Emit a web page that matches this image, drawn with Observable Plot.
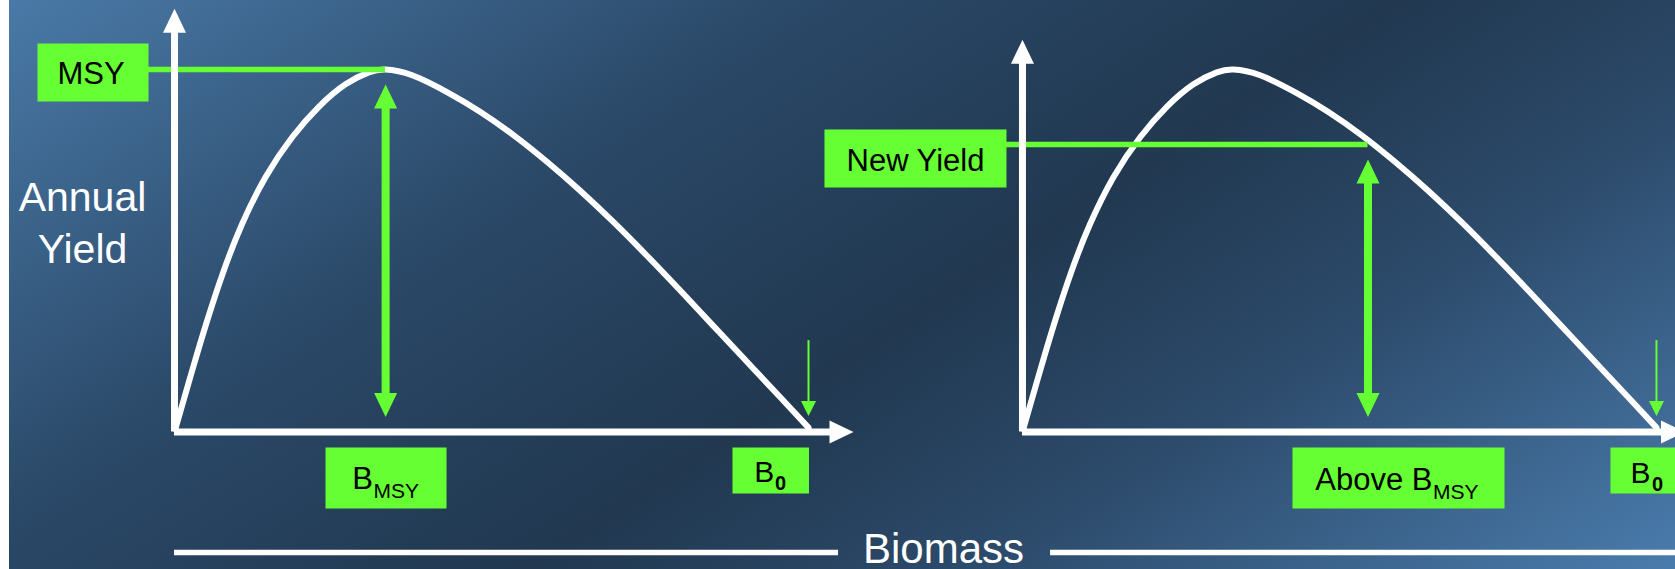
<!DOCTYPE html>
<html>
<head>
<meta charset="utf-8">
<script src="https://cdn.jsdelivr.net/npm/d3@7"></script>
<script src="https://cdn.jsdelivr.net/npm/@observablehq/plot@0.6"></script>
<style>
  html, body { margin: 0; padding: 0; overflow: hidden; background: #ffffff; }
  #chart svg { display: block; }
</style>
</head>
<body>
<div id="chart"></div>
<script>
// ---------- DATA ----------
// Surplus-production curve: biomass as a fraction of B0, annual yield as a fraction of MSY
const curveBiomass = [0.002, 0.0052, 0.0279, 0.0516, 0.0778, 0.1068, 0.1435, 0.1856, 0.2276, 0.2697, 0.3065, 0.3328,
                      0.3749, 0.4326, 0.4826, 0.5352, 0.5879, 0.6404, 0.6930, 0.7456, 0.7981, 0.8506, 0.9033, 0.9558, 1.0];
const curveYield   = [0.01, 0.0317, 0.1697, 0.3076, 0.4455, 0.5743, 0.7029, 0.8132, 0.8970, 0.9590, 0.9920, 1.0,
                      0.9840, 0.9350, 0.8830, 0.8185, 0.7450, 0.6650, 0.5780, 0.4855, 0.3895, 0.2915, 0.1930, 0.0950, 0.012];

const panels          = ["MSY", "New Yield"];
const harvestBiomass  = [0.333, 0.545];     // biomass where the fishery operates (fraction of B0)
const harvestYield    = [1.0, 0.793];       // yield obtained there (fraction of MSY)
const yieldLabels     = ["MSY", "New Yield"];
const biomassLabels   = ["B", "Above B"];
const biomassSubs     = ["MSY", "MSY"];
const b0Label         = "B";
const b0Sub           = "0";
const b0Biomass       = 1.0;
const b0MarkerTop     = 0.252;
const axisTopYield    = [1.1675, 1.082];
const axisEndBiomass  = [1.071, 1.045];
const yTitleLines     = ["Annual", "Yield"];
const xTitle          = "Biomass";

// ---------- LAYOUT ----------
const panelOffset = [0, 1.3375];              // horizontal shift of each panel, in B0 units
const xDomain = [-0.27445, 2.36751];
const yDomain = [-0.37931, 1.190345];
const biomassLabelX = 1.213;
const green = "#66ff33";
const font = "'Liberation Sans', Arial, Helvetica, sans-serif";

// layout per panel (pixel offsets)
const yieldBox   = {dx: [-81.5, -107], dy: [3, 14], w: [111, 182], h: [58, 58], tdx: [-83.5, -107], tdy: [14.3, 26]};
const biomassBox = {dx: [0.4, 30.5], dy: [46, 46], w: [121, 212], h: [61, 61],
                    mdx: [-12.8, 64.5], mdy: [56.5, 57.8], sdx: [-12, 65], sdy: [65.5, 66.5]};
const b0Box      = {dx: [-37.75, -7.75], dy: [38.5, 38.5], w: 76.5, h: 46,
                    mdx: [-34.3, -6], mdy: [50.2, 51.2], sdx: [-33.5, -4.5], sdy: [57.8, 58.8]};

// ---------- symbols ----------
function head(w, h, dir) {
  return {draw(ctx) {
    ctx.moveTo(0, 0);
    if (dir === "up") { ctx.lineTo(w / 2, h); ctx.lineTo(-w / 2, h); }
    else if (dir === "down") { ctx.lineTo(w / 2, -h); ctx.lineTo(-w / 2, -h); }
    else { ctx.lineTo(-h, w / 2); ctx.lineTo(-h, -w / 2); }
    ctx.closePath();
  }};
}
function rectSym(w, h) {
  return {draw(ctx) { ctx.rect(-w / 2, -h / 2, w, h); }};
}

// ---------- derived tables ----------
const curve = panels.flatMap((p, i) =>
  curveBiomass.map((b, j) => ({panel: p, x: b + panelOffset[i], y: curveYield[j]})));
const panelRows = panels.map((p, i) => ({
  panel: p,
  origin: panelOffset[i],
  axisTop: axisTopYield[i],
  axisEnd: axisEndBiomass[i] + panelOffset[i],
  hx: harvestBiomass[i] + panelOffset[i],
  hy: harvestYield[i],
  b0: b0Biomass + panelOffset[i]
}));
const zero = () => 0;

const marks = [];
// curve
marks.push(Plot.line(curve, {x: "x", y: "y", z: "panel", curve: "natural", stroke: "white", strokeWidth: 6,
  strokeLinejoin: "round"}));
// green yield lines
marks.push(Plot.ruleY(panelRows, {y: "hy", x1: "origin", x2: "hx", insetLeft: -60, stroke: green, strokeWidth: 5.5}));
// axes
marks.push(Plot.ruleX(panelRows, {x: "origin", y1: "axisTop", y2: zero, insetTop: 18, stroke: "white", strokeWidth: 7}));
marks.push(Plot.ruleY(panelRows, {y: zero, x1: "origin", x2: "axisEnd", insetRight: 18, stroke: "white", strokeWidth: 7}));
marks.push(Plot.dot(panelRows, {x: "origin", y: "axisTop", symbol: head(23, 24, "up"), fill: "white", stroke: "none"}));
marks.push(Plot.dot(panelRows, {x: "axisEnd", y: zero, symbol: head(23, 24, "right"), fill: "white", stroke: "none"}));
// double arrows
marks.push(Plot.ruleX(panelRows, {x: "hx", y1: "hy", y2: zero, insetTop: 27, insetBottom: 27, stroke: green, strokeWidth: 8}));
marks.push(Plot.dot(panelRows, {x: "hx", y: "hy", dy: 15, symbol: head(23, 24, "up"), fill: green, stroke: "none"}));
marks.push(Plot.dot(panelRows, {x: "hx", y: zero, dy: -15, symbol: head(23, 24, "down"), fill: green, stroke: "none"}));
// B0 small arrows
marks.push(Plot.ruleX(panelRows, {x: "b0", y1: () => b0MarkerTop, y2: zero, insetBottom: 24, stroke: green, strokeWidth: 2}));
marks.push(Plot.dot(panelRows, {x: "b0", y: zero, dy: -16, symbol: head(15, 15, "down"), fill: green, stroke: "none"}));

// label boxes & texts
panelRows.forEach((r, i) => {
  const one = [r];
  // yield label
  marks.push(Plot.dot(one, {x: "origin", y: "hy", dx: yieldBox.dx[i], dy: yieldBox.dy[i],
    symbol: rectSym(yieldBox.w[i], yieldBox.h[i]), fill: green, stroke: "none"}));
  marks.push(Plot.text(one, {x: "origin", y: "hy", dx: yieldBox.tdx[i], dy: yieldBox.tdy[i], text: () => yieldLabels[i],
    fontSize: 31, fontFamily: font, fill: "black", textAnchor: "middle", lineAnchor: "bottom"}));
  // biomass label
  marks.push(Plot.dot(one, {x: "hx", y: zero, dx: biomassBox.dx[i], dy: biomassBox.dy[i],
    symbol: rectSym(biomassBox.w[i], biomassBox.h[i]), fill: green, stroke: "none"}));
  marks.push(Plot.text(one, {x: "hx", y: zero, dx: biomassBox.mdx[i], dy: biomassBox.mdy[i], text: () => biomassLabels[i],
    fontSize: 31, fontFamily: font, fill: "black", textAnchor: "end", lineAnchor: "bottom"}));
  marks.push(Plot.text(one, {x: "hx", y: zero, dx: biomassBox.sdx[i], dy: biomassBox.sdy[i], text: () => biomassSubs[i],
    fontSize: 21, fontFamily: font, fill: "black", textAnchor: "start", lineAnchor: "bottom"}));
  // B0 label
  marks.push(Plot.dot(one, {x: "b0", y: zero, dx: b0Box.dx[i], dy: b0Box.dy[i],
    symbol: rectSym(b0Box.w, b0Box.h), fill: green, stroke: "none"}));
  marks.push(Plot.text(one, {x: "b0", y: zero, dx: b0Box.mdx[i], dy: b0Box.mdy[i], text: () => b0Label,
    fontSize: 30, fontFamily: font, fill: "black", textAnchor: "end", lineAnchor: "bottom"}));
  marks.push(Plot.text(one, {x: "b0", y: zero, dx: b0Box.sdx[i], dy: b0Box.sdy[i], text: () => b0Sub,
    fontSize: 20, fontWeight: "bold", fontFamily: font, fill: "black", textAnchor: "start", lineAnchor: "bottom"}));
});

// y title
marks.push(Plot.text([yTitleLines[0]], {frameAnchor: "left", dx: 82, dy: -74.5, text: d => d,
  fontSize: 41, fontFamily: font, fill: "white", textAnchor: "middle", lineAnchor: "bottom"}));
marks.push(Plot.text([yTitleLines[1]], {frameAnchor: "left", dx: 82, dy: -22.5, text: d => d,
  fontSize: 41, fontFamily: font, fill: "white", textAnchor: "middle", lineAnchor: "bottom"}));
// x title with lines
marks.push(Plot.ruleY([0], {y: zero, x1: () => 0, x2: () => biomassLabelX, dy: 120.5, insetRight: 105, stroke: "white", strokeWidth: 5.5}));
marks.push(Plot.ruleY([0], {y: zero, x1: () => biomassLabelX, x2: () => xDomain[1], dy: 120.5, insetLeft: 107, stroke: "white", strokeWidth: 5.5}));
marks.push(Plot.text([xTitle], {x: () => biomassLabelX, y: zero, dy: 131, text: d => d,
  fontSize: 42, fontFamily: font, fill: "white", textAnchor: "middle", lineAnchor: "bottom"}));

const chart = Plot.plot({
  width: 1675,
  height: 569,
  margin: 0,
  x: {domain: xDomain, axis: null},
  y: {domain: yDomain, axis: null},
  style: {
    background: "linear-gradient(to right, #ffffff 0px, #ffffff 9px, rgba(0,0,0,0) 9px), linear-gradient(147deg, #4a7aa8 0%, #2a4867 32%, #213850 55%, #2c4a6a 72%, #4a7cad 100%)",
    overflow: "hidden",
    fontFamily: font
  },
  marks
});
document.getElementById("chart").appendChild(chart);
</script>
</body>
</html>
